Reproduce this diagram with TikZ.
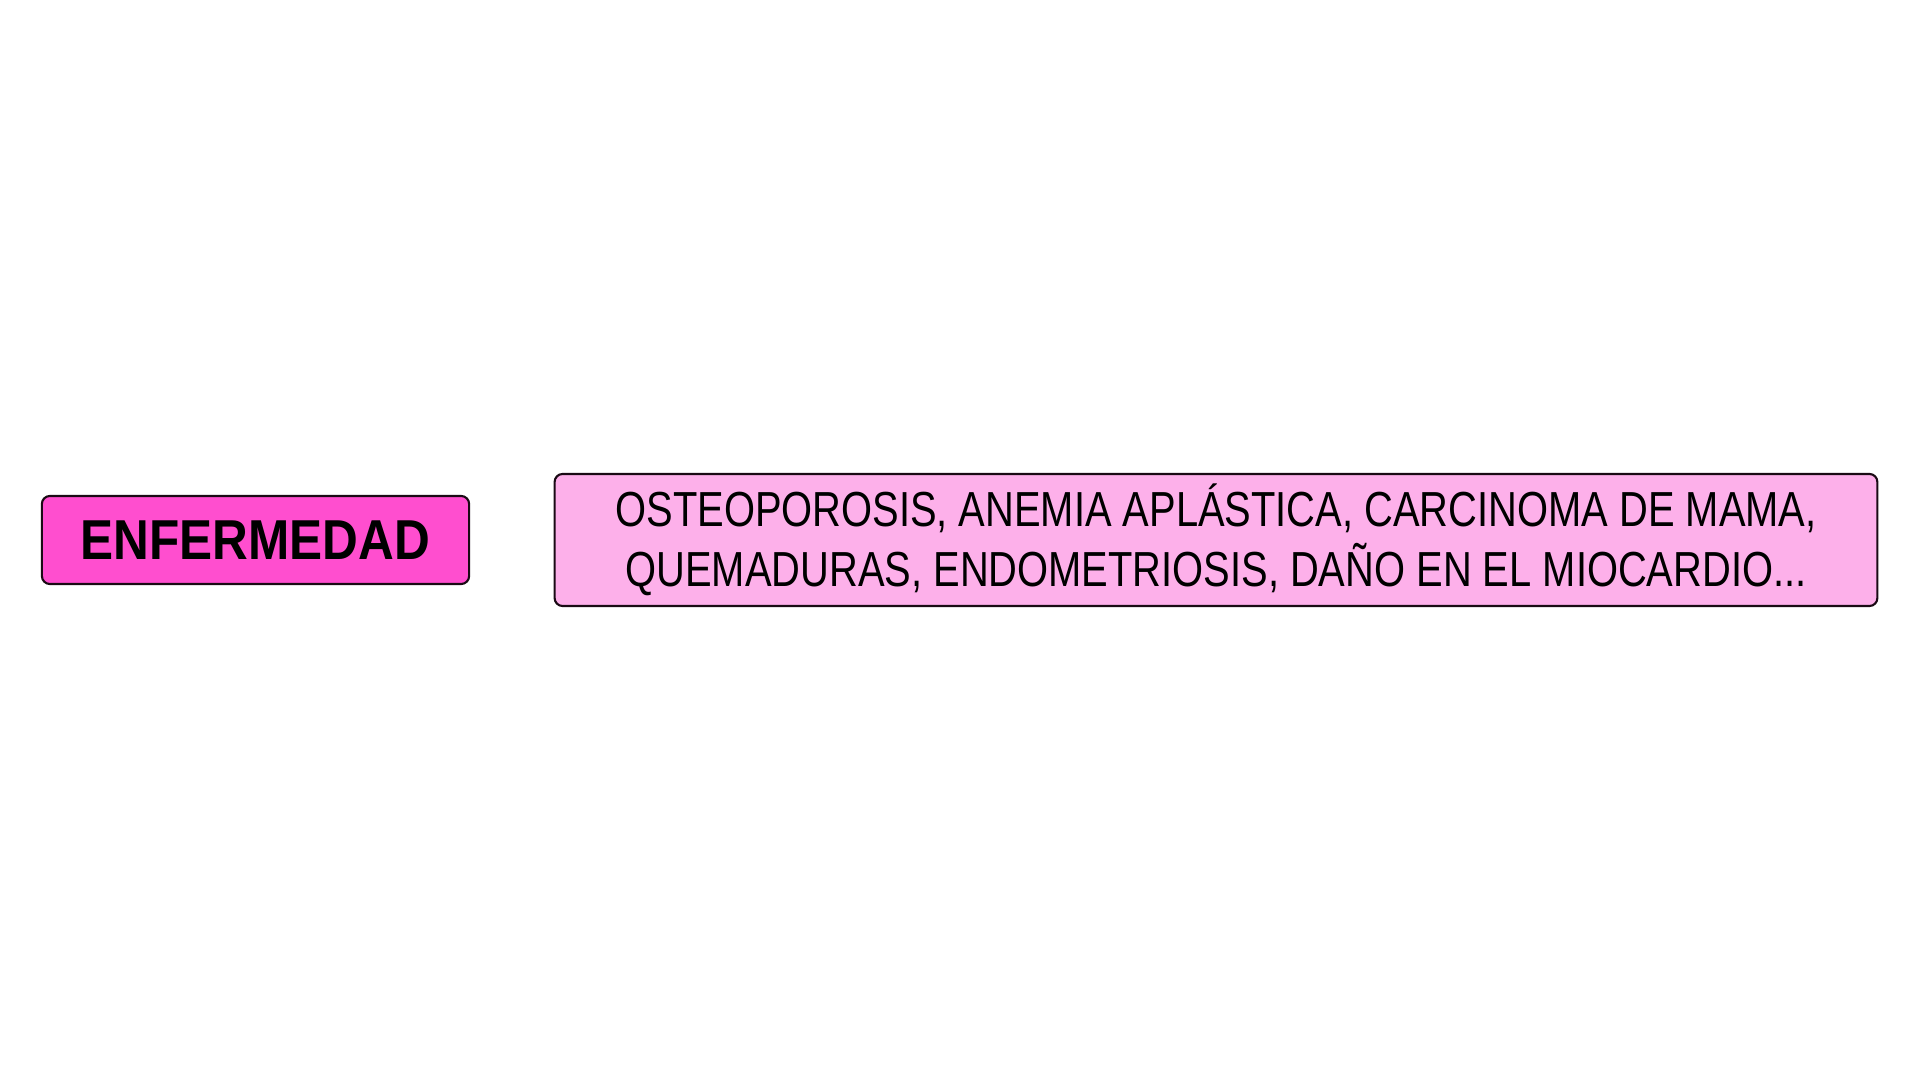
\documentclass[tikz,border=0pt]{standalone}
\usepackage{fontspec}
\setmainfont{Liberation Sans}[FakeStretch=0.88]
\newfontfamily\textoejemplos{Liberation Sans}[FakeStretch=0.81]
\definecolor{rosafuerte}{HTML}{FF4ECF}
\definecolor{rosaclaro}{HTML}{FDB0EA}
\definecolor{borde}{HTML}{1A0A14}
\tikzset{caja/.style={draw=borde, line width=0.6pt, rounded corners=0.8mm, inner sep=0pt}}
\begin{document}
\begin{tikzpicture}[x=0.01cm,y=-0.01cm, line join=round]
                \useasboundingbox (0,0) rectangle (1920,1080);
                % tipo
                \node[caja, fill=rosafuerte, minimum width=4.27cm, minimum height=0.88cm,
                      font=\bfseries\fontsize{16}{19}\selectfont] (enfermedad) at (255.5,540) {ENFERMEDAD};
                % ejemplos
                \node[caja, fill=rosaclaro, minimum width=13.22cm, minimum height=1.32cm, align=center,
                      font=\textoejemplos\fontsize{14}{17}\selectfont] (ejemplos) at (1216,540)
                      {OSTEOPOROSIS, ANEMIA APLÁSTICA, CARCINOMA DE MAMA,\\
                       QUEMADURAS, ENDOMETRIOSIS, DAÑO EN EL MIOCARDIO...};
\end{tikzpicture}
\end{document}
